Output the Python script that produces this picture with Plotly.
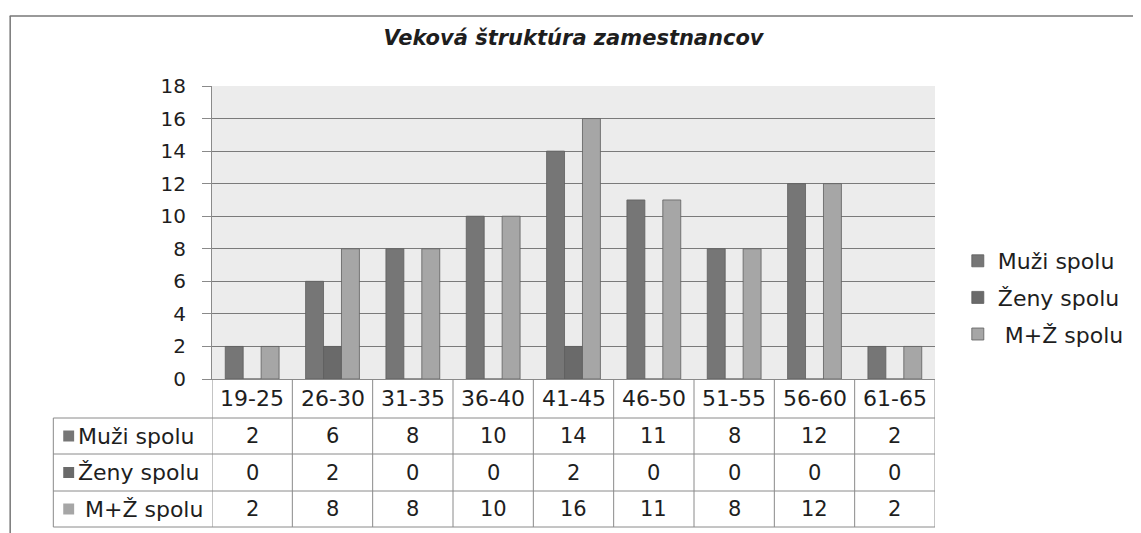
import plotly.graph_objects as go

categories = ["19-25", "26-30", "31-35", "36-40", "41-45", "46-50", "51-55", "56-60", "61-65"]
muzi = [2, 6, 8, 10, 14, 11, 8, 12, 2]
zeny = [0, 2, 0, 0, 2, 0, 0, 0, 0]
spolu = [2, 8, 8, 10, 16, 11, 8, 12, 2]
series_names = ["Muži spolu", "Ženy spolu", "\u00a0M+Ž spolu"]
series_colors = ["#767676", "#6a6a6a", "#a6a6a6"]
y_ticks = [0, 2, 4, 6, 8, 10, 12, 14, 16, 18]
title_text = "Veková štruktúra zamestnancov"

OFF = 8  # page body margin
W, H = 1141 - OFF, 533 - OFF
# page pixel coordinates of the plot area
L, R, T, B = 212, 941, 86, 379
FONT = "DejaVu Sans"
TXT = "#1e1e1e"
LINE = "#8a8a8a"


def px(xp):
    return (xp - L) / (R - L)


def py(yp):
    return (B - yp) / (B - T)


fig = go.Figure()
series = [muzi, zeny, spolu]
for i, (name, vals, col) in enumerate(zip(series_names, series, series_colors)):
    fig.add_trace(go.Bar(
        x=categories, y=vals, name=name, legendgroup=f"g{i}",
        marker=dict(color=col, line=dict(color="#5e5e5e", width=0.8)),
    ))

shapes = []
annotations = []

# outer frame (top and left)
shapes.append(dict(type="line", xref="paper", yref="paper", x0=px(8), x1=px(1160), y0=py(16), y1=py(16),
                   line=dict(color="#777777", width=1.5)))
shapes.append(dict(type="line", xref="paper", yref="paper", x0=px(8.5), x1=px(8.5), y0=py(16), y1=py(560),
                   line=dict(color="#777777", width=1.5)))

# data table geometry
row_lines = [379, 418, 454, 491, 527]
left_col = 52
for k in range(len(categories) + 1):
    shapes.append(dict(type="line", xref="x", yref="paper", x0=k - 0.5, x1=k - 0.5,
                       y0=py(row_lines[0]), y1=py(row_lines[-1]), line=dict(color=LINE, width=1)))
shapes.append(dict(type="line", xref="paper", yref="paper", x0=px(left_col), x1=px(left_col),
                   y0=py(row_lines[1]), y1=py(row_lines[-1]), line=dict(color=LINE, width=1)))
for yl in row_lines[1:]:
    shapes.append(dict(type="line", xref="paper", yref="paper", x0=px(left_col), x1=1,
                       y0=py(yl), y1=py(yl), line=dict(color=LINE, width=1)))

# header labels
for c in categories:
    annotations.append(dict(x=c, xref="x", xanchor="center", y=py((row_lines[0] + row_lines[1]) / 2),
                            yref="paper", yanchor="middle", text=c, showarrow=False,
                            font=dict(family=FONT, size=22, color=TXT)))
# rows
for r, (name, vals, col) in enumerate(zip(series_names, series, series_colors)):
    yc = (row_lines[r + 1] + row_lines[r + 2]) / 2
    shapes.append(dict(type="rect", xref="paper", yref="paper", x0=px(62), x1=px(73),
                       y0=py(yc - 5.5), y1=py(yc + 5.5), fillcolor=col, line=dict(width=0)))
    annotations.append(dict(x=px(75), xref="paper", xanchor="left", y=py(yc), yref="paper",
                            yanchor="middle", text=name, showarrow=False,
                            font=dict(family=FONT, size=22, color=TXT)))
    for c, v in zip(categories, vals):
        annotations.append(dict(x=c, xref="x", xanchor="center", y=py(yc), yref="paper",
                                yanchor="middle", text=str(v), showarrow=False,
                                font=dict(family=FONT, size=21, color=TXT)))

fig.update_layout(
    width=W, height=H,
    margin=dict(l=L - OFF, r=W - (R - OFF), t=T - OFF, b=H - (B - OFF), pad=0),
    paper_bgcolor="white", plot_bgcolor="#ececec",
    barmode="group", bargap=0.33, bargroupgap=0,
    title=dict(text=f"<b><i>{title_text}</i></b>", x=0.5, xref="paper", xanchor="center",
               y=1 - (38 - OFF) / H, yanchor="middle", font=dict(family=FONT, size=21, color=TXT)),
    font=dict(family=FONT, color=TXT),
    legend=dict(x=px(964), xanchor="left", y=py(240), yanchor="top",
                font=dict(family=FONT, size=22, color=TXT),
                tracegroupgap=5, bgcolor="rgba(0,0,0,0)"),
    shapes=shapes, annotations=annotations,
)
fig.update_xaxes(range=[-0.5, len(categories) - 0.5], showticklabels=False, showgrid=False,
                 showline=True, linecolor=LINE, linewidth=1, ticks="")
fig.update_yaxes(range=[0, 18], tickvals=y_ticks, ticks="outside", ticklen=9, tickcolor=LINE,
                 showgrid=True, gridcolor="#7a7a7a", gridwidth=1, showline=True, linecolor=LINE,
                 zeroline=False, tickfont=dict(family=FONT, size=20, color=TXT), ticklabelstandoff=12)

fig.write_html("out.html")
